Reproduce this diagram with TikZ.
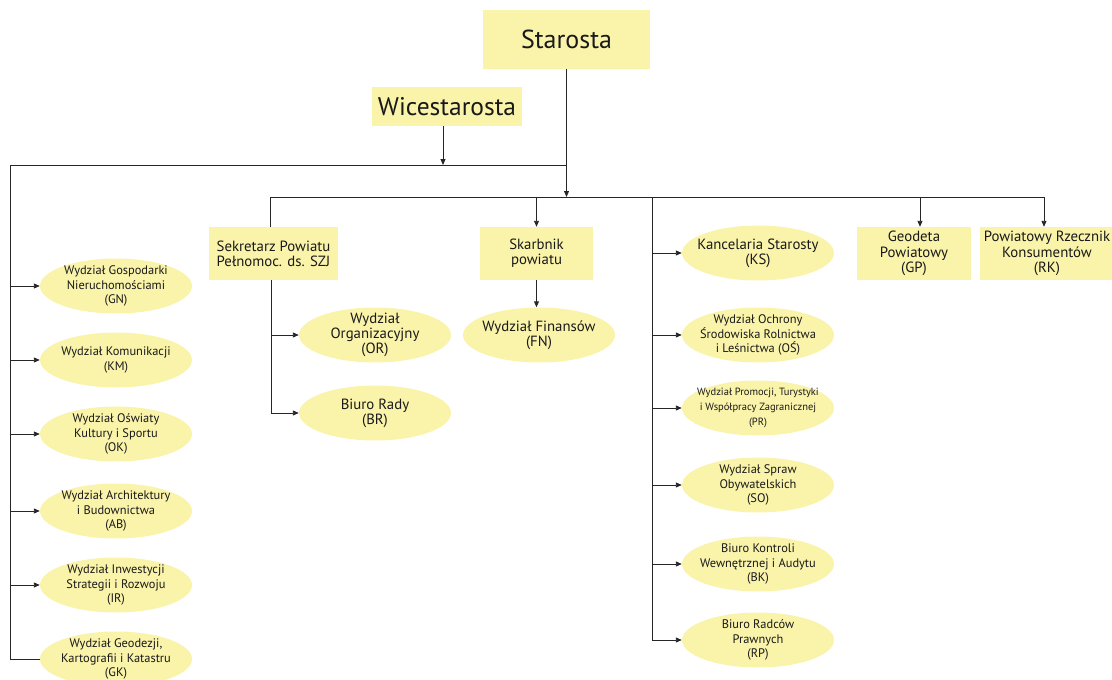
\documentclass[tikz,border=0pt]{standalone}
\usepackage{fontspec}
\setmainfont{PT Sans}
\usetikzlibrary{shapes.geometric,arrows.meta}
\definecolor{fillY}{RGB}{250,243,170}
\begin{document}
\begin{tikzpicture}[x=1pt,y=-1pt,
  every node/.style={inner sep=0pt, align=center, text=black!90},
  boxn/.style={rectangle, fill=fillY},
  ell/.style={ellipse, fill=fillY, minimum width=152pt, minimum height=55pt, inner xsep=-30pt, inner ysep=-14pt},
  arr/.style={-{Triangle[length=6pt,width=5pt]}},
  ln/.style={draw=black!85, line width=0.9pt},
  sm/.style={font=\fontsize{12.4}{14.8}\selectfont},
  xs/.style={font=\fontsize{10.5}{15}\selectfont},
  mid/.style={font=\fontsize{14.8}{15.2}\selectfont}
]
\useasboundingbox (0,0) rectangle (1112,680);
\clip (0,0) rectangle (1112,680);
% top boxes
\node[boxn, minimum width=167pt, minimum height=59pt, font=\fontsize{26}{30}\selectfont] (sta) at (566.5,39.5) {Starosta};
\node[boxn, minimum width=150pt, minimum height=39pt, font=\fontsize{25.5}{30}\selectfont] (wic) at (447,106.5) {Wicestarosta};
% second level boxes
\node[boxn, minimum width=129pt, minimum height=53pt, mid] (sek) at (273.5,253.5) {Sekretarz Powiatu\\Pełnomoc. ds. SZJ};
\node[boxn, minimum width=113pt, minimum height=53pt, mid] (ska) at (536.5,253.5) {Skarbnik\\powiatu};
\node[boxn, minimum width=114pt, minimum height=53pt, mid] (geo) at (914,253.5) {Geodeta\\Powiatowy\\(GP)};
\node[boxn, minimum width=134pt, minimum height=53pt, mid] (rze) at (1047,253.5) {Powiatowy Rzecznik\\Konsumentów\\(RK)};
% left column
\node[ell, sm] (gn) at (116,286) {Wydział Gospodarki\\Nieruchomościami\\(GN)};
\node[ell, sm] (km) at (116,360) {Wydział Komunikacji\\(KM)};
\node[ell, sm] (ok) at (116,434) {Wydział Oświaty\\Kultury i Sportu\\(OK)};
\node[ell, sm] (ab) at (116,511) {Wydział Architektury\\i Budownictwa\\(AB)};
\node[ell, sm] (ir) at (116,585) {Wydział Inwestycji\\Strategii i Rozwoju\\(IR)};
\node[ell, sm] (gk) at (116,659) {Wydział Geodezji,\\Kartografii i Katastru\\(GK)};
% middle
\node[ell, mid] (nor) at (375,335) {Wydział\\Organizacyjny\\(OR)};
\node[ell, mid] (br) at (375,413) {Biuro Rady\\(BR)};
\node[ell, mid] (fn) at (539,335) {Wydział Finansów\\(FN)};
% right column
\node[ell, mid] (ks) at (758,253) {Kancelaria Starosty\\(KS)};
\node[ell, sm] (os) at (758,335) {Wydział Ochrony\\Środowiska Rolnictwa\\i Leśnictwa (OŚ)};
\node[ell, xs] (pr) at (758,408) {Wydział Promocji, Turystyki\\i Współpracy Zagranicznej\\(PR)};
\node[ell, sm] (so) at (758,485) {Wydział Spraw\\Obywatelskich\\(SO)};
\node[ell, sm] (bk) at (758,564) {Biuro Kontroli\\Wewnętrznej i Audytu\\(BK)};
\node[ell, sm] (rp) at (758,640) {Biuro Radców\\Prawnych\\(RP)};
% bus coordinates
\coordinate (b1L) at (10,165);
\coordinate (b2L) at (270,197);
\coordinate (b2R) at (1044,197);
\coordinate (rt) at (652,197);
\coordinate (gx) at (920,197);
% connectors
\draw[ln,arr] (sta.south) -- (sta.south |- b2L);
\draw[ln,arr] ([xshift=-4pt]wic.south) -- ([xshift=-4pt]wic.south |- b1L);
\draw[ln] (sta.south |- b1L) -- (b1L) -- (b1L |- gk.west) -- (gk.west);
\foreach \n in {gn,km,ok,ab,ir} \draw[ln,arr] (b1L |- \n.west) -- (\n.west);
\draw[ln] (b2L) -- (b2R);
\draw[ln] (b2L) -- (b2L |- sek.north);
\draw[ln,arr] ([xshift=-2.5pt]sek.south) |- (br.west);
\draw[ln,arr] ([xshift=-2.5pt]sek.south |- nor.west) -- (nor.west);
\draw[ln,arr] (b2L -| ska.north) -- (ska.north);
\draw[ln,arr] (ska.south) -- (ska.south |- fn.north);
\draw[ln,arr] (rt) |- (rp.west);
\foreach \n in {ks,os,pr,so,bk} \draw[ln,arr] (rt |- \n.west) -- (\n.west);
\draw[ln,arr] (gx) -- (gx |- geo.north);
\draw[ln,arr] (b2R) -- (b2R |- rze.north);
\end{tikzpicture}
\end{document}
